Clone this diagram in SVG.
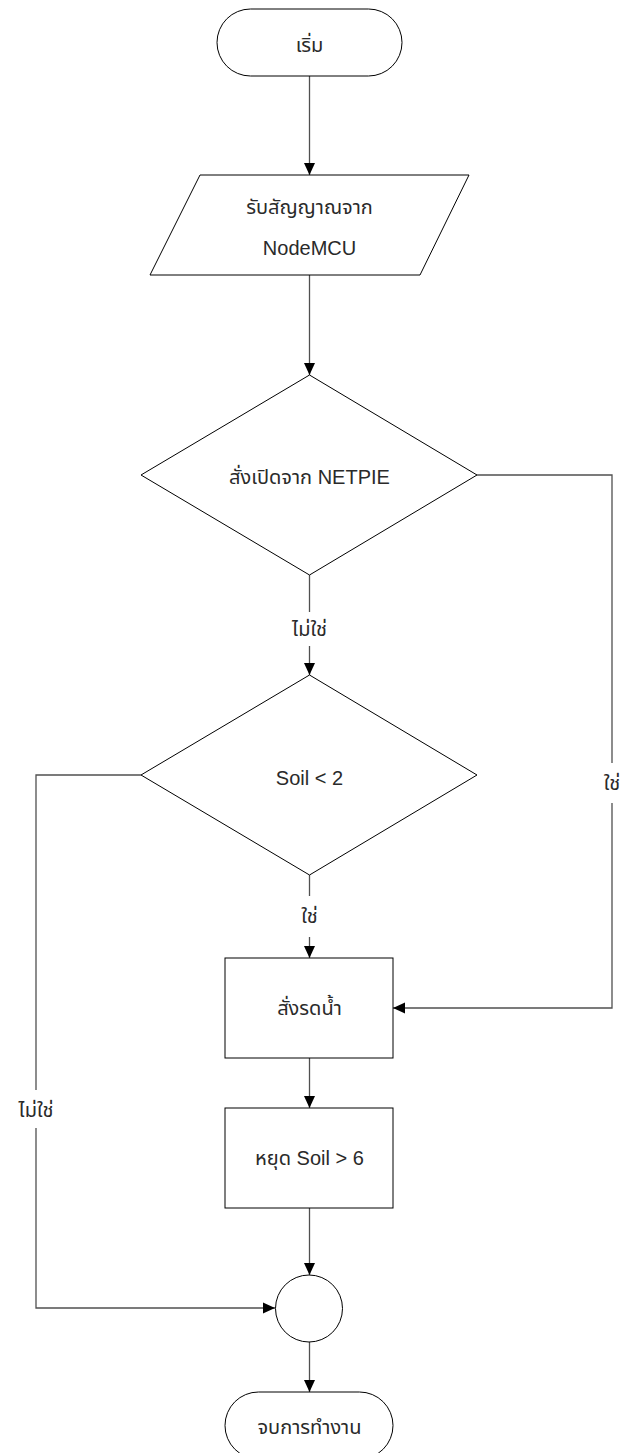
<svg xmlns="http://www.w3.org/2000/svg" width="625" height="1453" viewBox="0 0 625 1453">
  <style>
    .shape { fill: #ffffff; stroke: #000000; stroke-width: 1; }
    .link { fill: none; stroke: #505050; stroke-width: 1.3; }
    text { font-family: "Liberation Sans", "Noto Sans", "Noto Sans Thai", sans-serif; font-size: 20px; fill: #2a2a2a; text-anchor: middle; dominant-baseline: central; }
  </style>
  <defs>
    <marker id="arrow" viewBox="0 0 12 12" refX="12" refY="6" markerWidth="12" markerHeight="12" markerUnits="userSpaceOnUse" orient="auto">
      <path d="M0,0.5 L12,6 L0,11.5 Z" fill="#000000"/>
    </marker>
  </defs>
  <rect width="625" height="1453" fill="#ffffff"/>

  <!-- connectors -->
  <g id="connectors">
    <line class="link" x1="309.5" y1="76" x2="309.5" y2="175" marker-end="url(#arrow)"/>
    <line class="link" x1="309.5" y1="275" x2="309.5" y2="375" marker-end="url(#arrow)"/>
    <!-- NETPIE: no -->
    <line class="link" x1="309.5" y1="575" x2="309.5" y2="612"/>
    <line class="link" x1="309.5" y1="646" x2="309.5" y2="675" marker-end="url(#arrow)"/>
    <text x="309.5" y="629">ไม่ใช่</text>
    <!-- NETPIE: yes -->
    <polyline class="link" points="477,475 612,475 612,763"/>
    <polyline class="link" points="612,803 612,1008 393,1008" marker-end="url(#arrow)"/>
    <text x="612" y="783">ใช่</text>
    <!-- Soil < 2: yes -->
    <line class="link" x1="309.5" y1="875" x2="309.5" y2="896"/>
    <line class="link" x1="309.5" y1="937" x2="309.5" y2="958" marker-end="url(#arrow)"/>
    <text x="309.5" y="916">ใช่</text>
    <!-- Soil < 2: no -->
    <polyline class="link" points="141,775 36,775 36,1090"/>
    <polyline class="link" points="36,1128 36,1308 275,1308" marker-end="url(#arrow)"/>
    <text x="36" y="1110">ไม่ใช่</text>
    <line class="link" x1="309.5" y1="1058" x2="309.5" y2="1108" marker-end="url(#arrow)"/>
    <line class="link" x1="309.5" y1="1208" x2="309.5" y2="1275" marker-end="url(#arrow)"/>
    <line class="link" x1="309.5" y1="1342" x2="309.5" y2="1392" marker-end="url(#arrow)"/>
  </g>

  <g id="start">
    <rect class="shape" x="217" y="9" width="185" height="67" rx="33.5" ry="33.5"/>
    <text x="309.5" y="45">เริ่ม</text>
  </g>

  <g id="receive">
    <polygon class="shape" points="200,175 469,175 420,275 150,275"/>
    <text x="309.5" y="207">รับสัญญาณจาก</text>
    <text x="309.5" y="248">NodeMCU</text>
  </g>

  <g id="netpie">
    <polygon class="shape" points="309.5,375 477,475 309.5,575 141,475"/>
    <text x="309.5" y="477">สั่งเปิดจาก NETPIE</text>
  </g>

  <g id="soil-check">
    <polygon class="shape" points="309.5,675 477,775 309.5,875 141,775"/>
    <text x="309.5" y="778">Soil &lt; 2</text>
  </g>

  <g id="water">
    <rect class="shape" x="225" y="958" width="168" height="100"/>
    <text x="309.5" y="1008">สั่งรดน้ำ</text>
  </g>

  <g id="stop">
    <rect class="shape" x="225" y="1108" width="168" height="100"/>
    <text x="309.5" y="1158">หยุด Soil &gt; 6</text>
  </g>

  <g id="join">
    <circle class="shape" cx="309" cy="1308.5" r="33.5"/>
  </g>

  <g id="end">
    <rect class="shape" x="225" y="1392" width="168" height="67" rx="33.5" ry="33.5"/>
    <text x="309.5" y="1427">จบการทำงาน</text>
  </g>
</svg>
